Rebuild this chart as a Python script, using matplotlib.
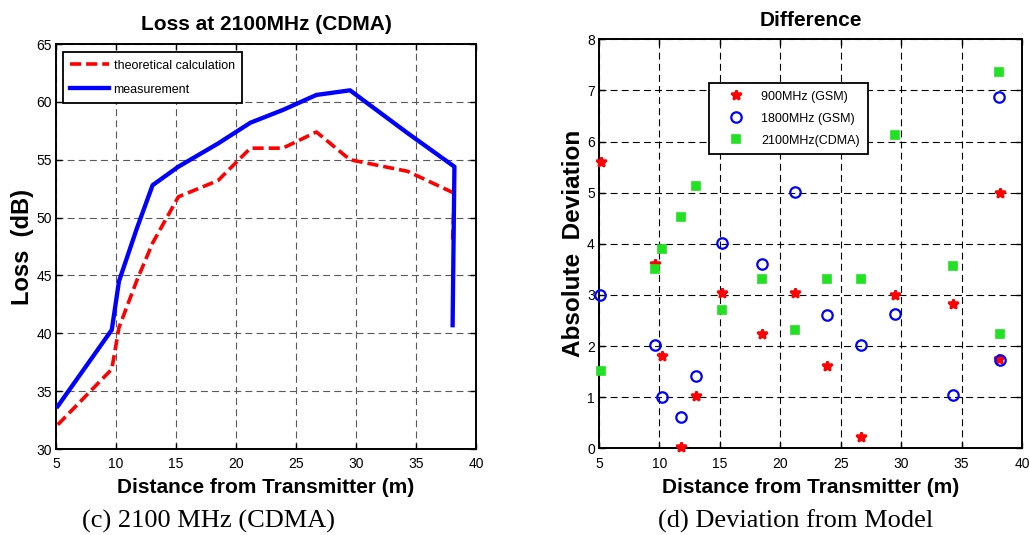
import matplotlib
matplotlib.use("Agg")
import matplotlib.pyplot as plt

# ---------------------------------------------------------------------------
# Data
# ---------------------------------------------------------------------------

# (c) loss at 2100 MHz
loss_dist = [5.15, 9.65, 10.25, 11.75, 13.05, 15.2, 18.5, 21.2, 23.9, 26.7, 29.5, 34.3, 38.2, 38.05]
loss_theory = [32.1, 36.9, 40.5, 44.6, 47.8, 51.8, 53.2, 56.0, 56.0, 57.4, 55.0, 54.0, 52.1, 48.1]
loss_meas = [33.7, 40.3, 44.5, 49.1, 52.8, 54.4, 56.4, 58.2, 59.3, 60.6, 61.0, 57.3, 54.4, 40.7]

# (d) absolute deviation from model
dev_dist = [5.15, 9.65, 10.25, 11.75, 13.05, 15.2, 18.5, 21.2, 23.9, 26.7, 29.5, 34.3, 38.2, 38.07]
dev_900 = [5.6, 3.6, 1.8, 0.02, 1.02, 3.03, 2.23, 3.03, 1.61, 0.23, 3.0, 2.83, 5.0, 1.74]
dev_dist_1800 = [5.08, 9.65, 10.25, 11.75, 13.05, 15.2, 18.5, 21.2, 23.9, 26.7, 29.5, 34.3, 38.2, 38.07]
dev_1800 = [3.0, 2.02, 1.01, 0.61, 1.41, 4.01, 3.61, 5.02, 2.6, 2.02, 2.62, 1.05, 1.73, 6.87]
dev_dist_2100 = [5.15, 9.65, 10.25, 11.75, 13.05, 15.2, 18.5, 21.2, 23.9, 26.7, 29.5, 34.3, 38.2, 38.07]
dev_2100 = [1.52, 3.51, 3.9, 4.52, 5.13, 2.71, 3.32, 2.32, 3.32, 3.32, 6.13, 3.56, 2.24, 7.36]

x_ticks = [5, 10, 15, 20, 25, 30, 35, 40]
loss_ticks = [30, 35, 40, 45, 50, 55, 60, 65]
dev_ticks = [0, 1, 2, 3, 4, 5, 6, 7, 8]

plt.rcParams["font.family"] = ["Liberation Sans", "DejaVu Sans"]
plt.rcParams["lines.scale_dashes"] = False

SERIF = ["Liberation Serif", "DejaVu Serif"]


def style_axes(ax, grid_color):
    ax.grid(True, color=grid_color, linewidth=0.8, linestyle=(0, (5, 3)), zorder=0)
    ax.set_axisbelow(True)
    ax.tick_params(direction="in", length=4, width=1.0, top=True, right=True,
                   labelsize=10, pad=3)
    ax.tick_params(axis="x", pad=6)
    for sp in ax.spines.values():
        sp.set_linewidth(1.4)


fig = plt.figure(figsize=(10.29, 5.35), dpi=100)

# --- left panel -------------------------------------------------------------
ax1 = fig.add_axes([0.0544, 0.1607, 0.4082, 0.757])
ax1.plot(loss_dist, loss_theory, color="red", linewidth=2.6, linestyle=(0, (8, 3.6)),
         label="theoretical calculation", zorder=3)
ax1.plot(loss_dist, loss_meas, color="blue", linewidth=3.1, label="measurement", zorder=4)
ax1.set_xlim(5, 40)
ax1.set_ylim(30, 65)
ax1.set_xticks(x_ticks)
ax1.set_yticks(loss_ticks)
style_axes(ax1, "0.35")
ax1.text(0.5, 1.0346, "Loss at 2100MHz (CDMA)", transform=ax1.transAxes,
         ha="center", va="baseline", fontsize=15, fontweight="bold")
ax1.set_xlabel("Distance from Transmitter (m)", fontsize=15, fontweight="bold")
ax1.xaxis.set_label_coords(0.5, -0.072)
ax1.set_ylabel("Loss  (dB)", fontsize=17, fontweight="bold")
ax1.yaxis.set_label_coords(-0.053, 0.5)
leg1 = ax1.legend(loc="upper left", bbox_to_anchor=(0.0167, 0.98), borderaxespad=0,
                  fontsize=9, fancybox=False, edgecolor="black", framealpha=1,
                  handlelength=3.1, handletextpad=0.35, borderpad=0.6, labelspacing=0.95)
leg1.get_frame().set_linewidth(1.3)

# --- right panel ------------------------------------------------------------
ax2 = fig.add_axes([0.5821, 0.162, 0.4111, 0.7645])
ax2.plot(dev_dist, dev_900, linestyle="none", marker="*", markersize=7.5,
         markeredgewidth=1.8, color="red", label="900MHz (GSM)", zorder=3, clip_on=False)
ax2.plot(dev_dist_1800, dev_1800, linestyle="none", marker="o", markersize=7.5,
         markerfacecolor="none", markeredgewidth=1.6, color="blue",
         label="1800MHz (GSM)", zorder=4, clip_on=False)
ax2.plot(dev_dist_2100, dev_2100, linestyle="none", marker="s", markersize=5.5,
         markeredgewidth=1.2, color="#22e022", label="2100MHz(CDMA)", zorder=5,
         clip_on=False)
ax2.set_xlim(5, 40)
ax2.set_ylim(0, 8)
ax2.set_xticks(x_ticks)
ax2.set_yticks(dev_ticks)
style_axes(ax2, "black")
ax2.text(0.5, 1.0325, "Difference", transform=ax2.transAxes,
         ha="center", va="baseline", fontsize=15, fontweight="bold")
ax2.set_xlabel("Distance from Transmitter (m)", fontsize=15, fontweight="bold")
ax2.xaxis.set_label_coords(0.5, -0.073)
ax2.set_ylabel("Absolute  Deviation", fontsize=17.5, fontweight="bold")
ax2.yaxis.set_label_coords(-0.032, 0.5)
leg2 = ax2.legend(loc="upper left", bbox_to_anchor=(0.260, 0.893), borderaxespad=0,
                  fontsize=9, fancybox=False, edgecolor="black", framealpha=1,
                  handlelength=3.2, handletextpad=0.4, borderpad=0.6, labelspacing=0.8)
leg2.get_frame().set_linewidth(1.3)

# --- captions ---------------------------------------------------------------
fig.text(208 / 1029, 1 - 528 / 535, "(c) 2100 MHz (CDMA)", family=SERIF,
         fontsize=19, ha="center", va="baseline")
fig.text(796 / 1029, 1 - 528 / 535, "(d) Deviation from Model", family=SERIF,
         fontsize=19, ha="center", va="baseline")

fig.savefig("out.png", dpi=100)
